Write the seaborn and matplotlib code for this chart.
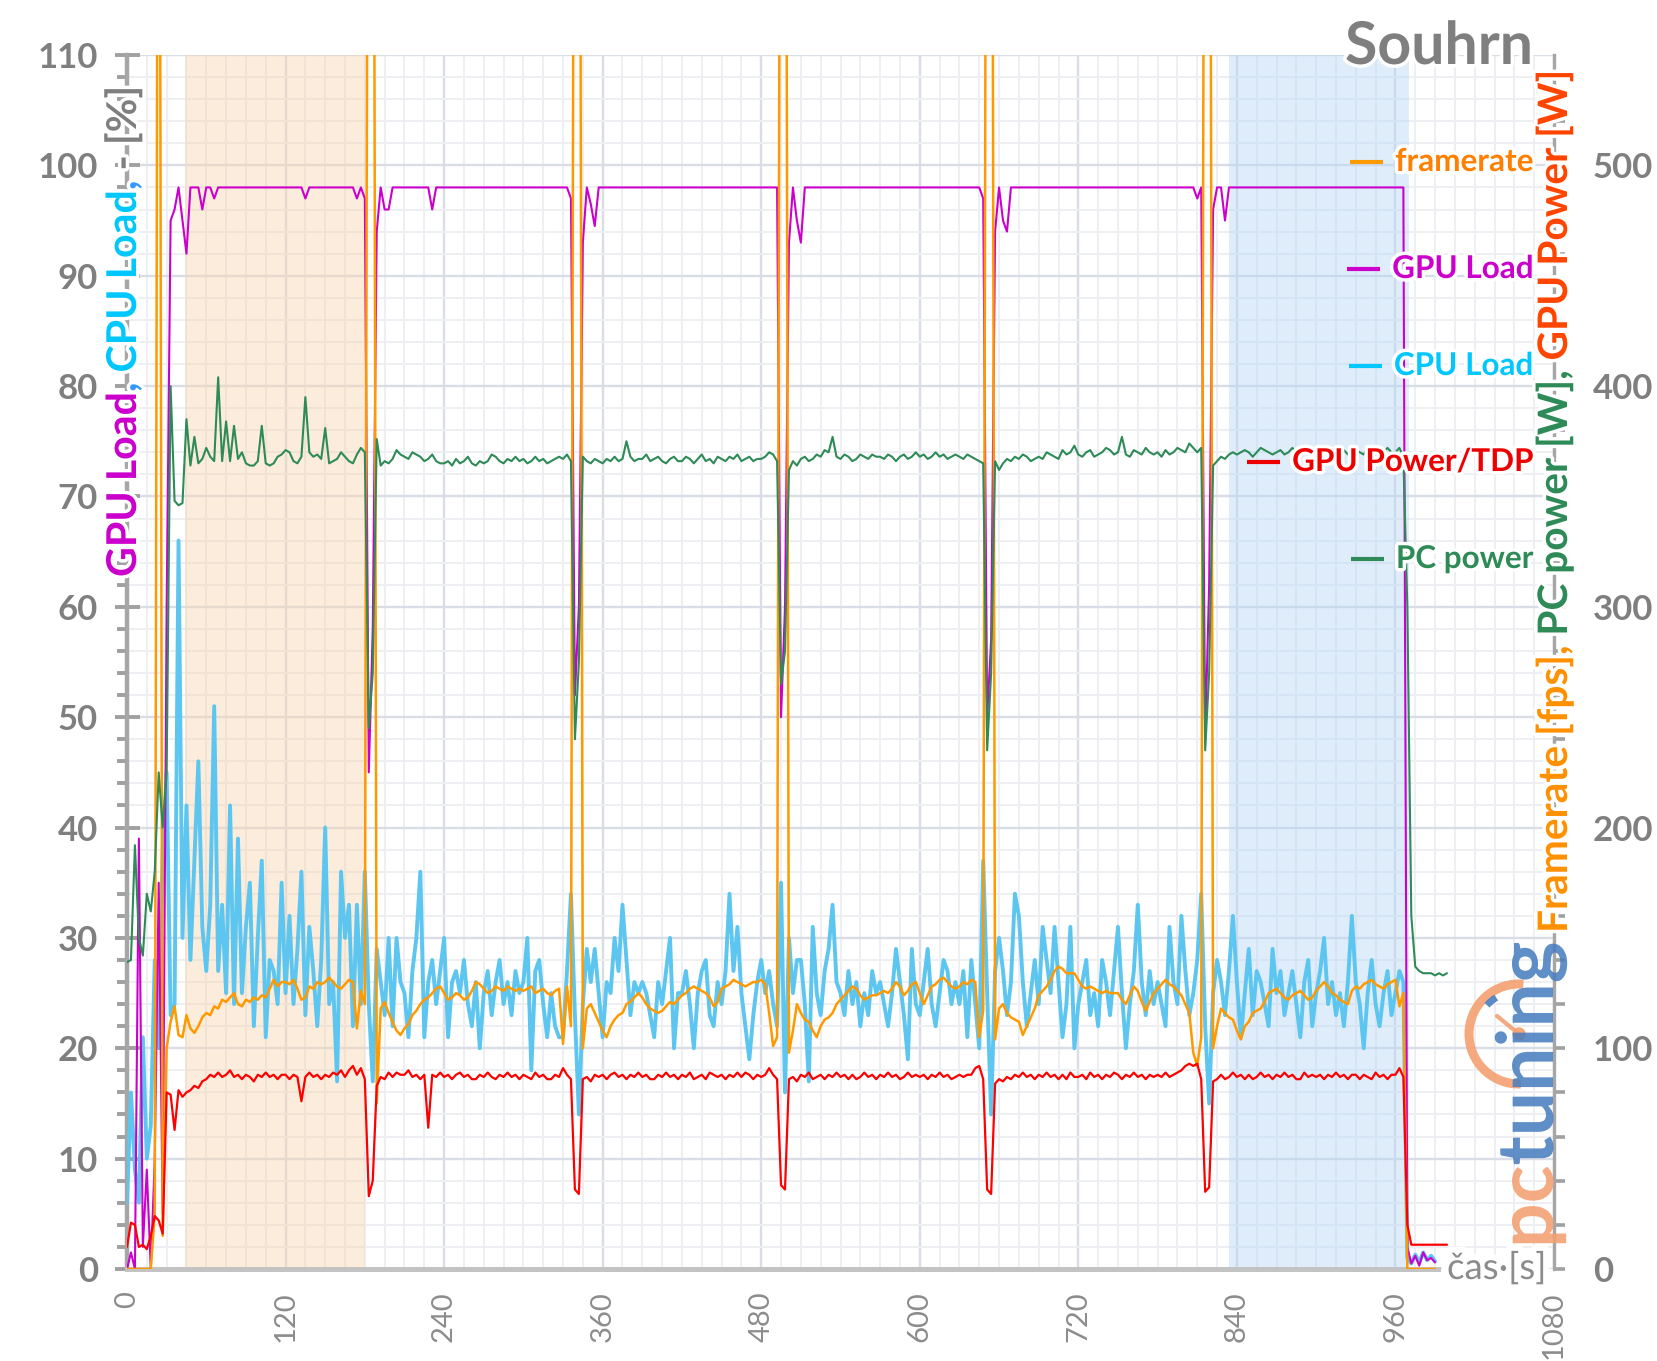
import numpy as np
import pandas as pd
import matplotlib
matplotlib.use("Agg")
import matplotlib.pyplot as plt
import seaborn as sns
from matplotlib.ticker import MultipleLocator
from matplotlib.patches import Arc, Circle
from matplotlib.lines import Line2D
import matplotlib.patheffects as pe

# ---------------- data (sampled every 3 s, one row = 30 s) ----------------
STEP_S = 3
gpu_load = [
    0, 1.5, 0, 39, 2, 9, 0, 10, 35, 5,
    60, 95, 96, 98, 95, 92, 98, 98, 98, 96,
    98, 98, 97, 98, 98, 98, 98, 98, 98, 98,
    98, 98, 98, 98, 98, 98, 98, 98, 98, 98,
    98, 98, 98, 98, 98, 97, 98, 98, 98, 98,
    98, 98, 98, 98, 98, 98, 98, 98, 97, 98,
    97, 45, 58, 94, 98, 96, 96, 98, 98, 98,
    98, 98, 98, 98, 98, 98, 98, 96, 98, 98,
    98, 98, 98, 98, 98, 98, 98, 98, 98, 98,
    98, 98, 98, 98, 98, 98, 98, 98, 98, 98,
    98, 98, 98, 98, 98, 98, 98, 98, 98, 98,
    98, 98, 97, 52, 60, 93, 98, 96.5, 94.5, 98,
    98, 98, 98, 98, 98, 98, 98, 98, 98, 98,
    98, 98, 98, 98, 98, 98, 98, 98, 98, 98,
    98, 98, 98, 98, 98, 98, 98, 98, 98, 98,
    98, 98, 98, 98, 98, 98, 98, 98, 98, 98,
    98, 98, 98, 98, 98, 50, 60, 93, 98, 95,
    93, 98, 98, 98, 98, 98, 98, 98, 98, 98,
    98, 98, 98, 98, 98, 98, 98, 98, 98, 98,
    98, 98, 98, 98, 98, 98, 98, 98, 98, 98,
    98, 98, 98, 98, 98, 98, 98, 98, 98, 98,
    98, 98, 98, 98, 98, 98, 97, 50, 57, 94,
    98, 95, 94, 98, 98, 98, 98, 98, 98, 98,
    98, 98, 98, 98, 98, 98, 98, 98, 98, 98,
    98, 98, 98, 98, 98, 98, 98, 98, 98, 98,
    98, 98, 98, 98, 98, 98, 98, 98, 98, 98,
    98, 98, 98, 98, 98, 98, 98, 98, 98, 98,
    97, 98, 48, 62, 96, 98, 98, 95, 98, 98,
    98, 98, 98, 98, 98, 98, 98, 98, 98, 98,
    98, 98, 98, 98, 98, 98, 98, 98, 98, 98,
    98, 98, 98, 98, 98, 98, 98, 98, 98, 98,
    98, 98, 98, 98, 98, 98, 98, 98, 98, 98,
    98, 98, 98, 2, 0.5, 1.2, 0.3, 1.5, 0.8, 1.0,
    0.6, np.nan, np.nan, np.nan,
]
cpu_load = [
    6, 16, 9, 6, 21, 10, 13, 28, 20, 38,
    45, 23, 24, 66, 30, 42, 28, 37, 46, 31,
    27, 33, 51, 27, 33, 25, 42, 24, 39, 25,
    31, 35, 22, 30, 37, 21, 28, 27, 24, 35,
    25, 32, 24, 29, 36, 23, 31, 27, 22, 28,
    40, 24, 26, 17, 36, 30, 33, 22, 33, 24,
    36, 24, 17, 29, 26, 23, 30, 22, 30, 26,
    25, 21, 27, 30, 36, 21, 26, 28, 24, 27,
    30, 21, 26, 27, 25, 28, 24, 22, 26, 20,
    25, 27, 23, 26, 28, 24, 26, 23, 27, 25,
    26, 30, 18, 27, 28, 24, 21, 25, 22, 21,
    21, 27, 34, 23, 14, 24, 29, 26, 29, 25,
    21, 26, 25, 30, 27, 33, 28, 23, 26, 25,
    26, 25, 23, 21, 26, 24, 27, 30, 20, 25,
    25, 27, 24, 20, 25, 27, 28, 23, 22, 26,
    24, 27, 34, 27, 31, 25, 22, 19, 23, 26,
    28, 25, 27, 24, 22, 35, 16, 30, 25, 28,
    28, 24, 17, 31, 25, 23, 27, 29, 33, 26,
    25, 23, 27, 24, 26, 22, 25, 23, 27, 25,
    26, 24, 22, 25, 29, 26, 23, 19, 29, 24,
    23, 26, 29, 24, 22, 25, 28, 27, 24, 26,
    24, 27, 21, 28, 24, 20, 37, 25, 14, 27,
    30, 27, 23, 26, 34, 32, 26, 22, 25, 28,
    24, 31, 28, 25, 31, 26, 21, 24, 31, 20,
    24, 26, 28, 23, 25, 22, 28, 26, 23, 27,
    31, 25, 20, 24, 27, 33, 26, 23, 27, 24,
    26, 24, 22, 31, 26, 24, 32, 27, 23, 25,
    28, 34, 22, 15, 25, 28, 26, 23, 27, 32,
    26, 21, 25, 29, 23, 27, 26, 24, 22, 29,
    25, 27, 23, 25, 27, 24, 21, 26, 28, 22,
    25, 27, 30, 24, 26, 23, 25, 22, 26, 32,
    26, 24, 20, 25, 28, 24, 22, 25, 27, 23,
    25, 27, 26, 1, 0.5, 1.3, 0.6, 1.5, 0.8, 1.2,
    0.7, np.nan, np.nan, np.nan,
]
framerate = [
    0, 0, 0, 0, 0, 0, 0, 25, 900, 15,
    100, 112, 119, 106, 105, 115, 109, 107, 110, 114,
    116, 115, 119, 118, 122, 121, 123, 125, 120, 119,
    122, 121, 123, 122, 124, 123, 127, 131, 128, 130,
    130, 129, 131, 127, 122, 123, 128, 127, 130, 129,
    130, 132, 130, 128, 127, 129, 131, 130, 109, 126,
    120, 900, 900, 75, 118, 121, 116, 112, 108, 106,
    109, 111, 115, 117, 120, 122, 123, 125, 127, 128,
    125, 122, 123, 125, 124, 122, 123, 126, 130, 129,
    127, 125, 126, 128, 127, 126, 128, 127, 126, 127,
    126, 127, 128, 125, 126, 127, 125, 124, 126, 127,
    102, 128, 110, 900, 900, 100, 118, 120, 116, 112,
    108, 105, 110, 113, 115, 116, 120, 121, 123, 125,
    123, 120, 118, 117, 116, 117, 119, 121, 120, 122,
    124, 125, 127, 128, 127, 126, 125, 123, 119, 121,
    127, 128, 129, 131, 130, 129, 128, 129, 130, 130,
    131, 129, 116, 101, 105, 900, 900, 98, 108, 120,
    116, 113, 112, 108, 105, 110, 113, 114, 116, 120,
    122, 124, 126, 128, 127, 124, 122, 123, 124, 124,
    125, 126, 125, 127, 130, 128, 124, 126, 129, 130,
    125, 120, 124, 128, 129, 131, 132, 130, 128, 127,
    128, 130, 129, 131, 130, 105, 117, 900, 900, 104,
    118, 120, 116, 114, 113, 112, 106, 110, 114, 118,
    124, 126, 128, 131, 135, 137, 136, 134, 134, 134,
    131, 128, 127, 128, 127, 126, 125, 126, 125, 125,
    125, 122, 120, 124, 128, 126, 121, 117, 121, 125,
    127, 129, 131, 129, 128, 126, 124, 120, 116, 98,
    92, 105, 900, 900, 100, 110, 118, 116, 114, 113,
    108, 104, 110, 112, 116, 117, 118, 121, 125, 126,
    127, 125, 123, 122, 124, 125, 126, 124, 122, 123,
    126, 128, 130, 128, 125, 124, 122, 121, 120, 126,
    128, 127, 129, 130, 131, 129, 128, 127, 129, 130,
    131, 119, 125, 0, 0, 0, 0, 0, 0, 0,
    0, np.nan, np.nan, np.nan,
]
gpu_power = [
    10, 21, 20, 10, 11, 9, 15, 24, 22, 16,
    80, 79, 63, 81, 78, 80, 81, 83, 82, 85,
    86, 88, 87, 89, 87, 88, 90, 87, 88, 86,
    88, 87, 85, 88, 87, 89, 87, 88, 86, 88,
    88, 86, 88, 87, 76, 87, 89, 87, 88, 86,
    88, 87, 89, 88, 90, 87, 90, 92, 88, 91,
    86, 33, 40, 83, 87, 86, 89, 87, 89, 88,
    88, 90, 87, 88, 86, 88, 64, 88, 87, 89,
    87, 88, 86, 88, 89, 87, 88, 86, 86, 88,
    87, 89, 87, 86, 88, 87, 89, 87, 88, 86,
    88, 87, 86, 89, 87, 88, 86, 86, 88, 87,
    91, 88, 86, 36, 34, 86, 87, 85, 88, 87,
    88, 86, 88, 89, 87, 88, 86, 88, 87, 89,
    87, 88, 86, 86, 88, 87, 89, 87, 88, 86,
    88, 87, 89, 86, 87, 88, 86, 89, 88, 87,
    88, 86, 88, 87, 89, 87, 89, 88, 86, 88,
    87, 88, 91, 88, 86, 38, 36, 86, 87, 85,
    88, 87, 89, 86, 87, 88, 86, 88, 87, 89,
    87, 88, 86, 88, 86, 87, 89, 87, 88, 86,
    88, 87, 89, 87, 88, 86, 87, 89, 87, 88,
    87, 88, 86, 88, 87, 89, 87, 88, 86, 87,
    88, 87, 88, 88, 91, 92, 86, 36, 34, 84,
    86, 85, 87, 86, 88, 87, 89, 87, 88, 86,
    88, 87, 89, 87, 88, 86, 88, 86, 89, 87,
    87, 88, 86, 89, 87, 88, 86, 88, 87, 89,
    88, 86, 88, 87, 89, 87, 88, 86, 88, 87,
    88, 87, 89, 87, 88, 89, 90, 92, 93, 92,
    93, 86, 35, 37, 85, 86, 88, 86, 87, 89,
    87, 88, 86, 88, 86, 87, 89, 87, 88, 86,
    88, 87, 89, 87, 88, 86, 86, 89, 87, 88,
    87, 88, 86, 88, 87, 89, 87, 88, 86, 88,
    88, 86, 88, 87, 86, 89, 87, 88, 86, 88,
    88, 91, 87, 20, 11, 11, 11, 11, 11, 11,
    11, 11, 11, 11,
]
pc_power = [
    139, 140, 192, 150, 142, 170, 162, 180, 225, 200,
    225, 400, 348, 346, 347, 385, 364, 377, 365, 367,
    372, 368, 366, 404, 366, 384, 366, 382, 367, 370,
    365, 364, 364, 366, 382, 365, 364, 365, 368, 369,
    371, 370, 366, 365, 368, 395, 370, 368, 369, 367,
    381, 365, 366, 367, 370, 368, 366, 365, 369, 372,
    370, 245, 270, 376, 364, 366, 365, 367, 371, 369,
    368, 367, 370, 369, 368, 366, 367, 369, 366, 365,
    365, 366, 364, 367, 365, 366, 368, 365, 364, 366,
    365, 366, 369, 368, 366, 365, 367, 366, 368, 366,
    367, 365, 366, 368, 366, 367, 365, 366, 367, 368,
    367, 369, 366, 240, 275, 368, 366, 365, 367, 366,
    365, 367, 366, 368, 366, 367, 375, 368, 366, 367,
    367, 369, 366, 367, 368, 366, 365, 367, 368, 366,
    366, 368, 367, 365, 367, 369, 366, 367, 365, 368,
    367, 366, 368, 367, 369, 366, 367, 368, 366, 367,
    367, 368, 370, 369, 366, 265, 280, 362, 366, 364,
    367, 368, 366, 367, 369, 368, 371, 370, 377, 368,
    367, 369, 368, 366, 367, 369, 368, 367, 369, 368,
    368, 367, 369, 368, 366, 368, 369, 367, 368, 370,
    368, 369, 367, 368, 370, 368, 369, 367, 368, 369,
    368, 367, 369, 368, 367, 366, 365, 235, 270, 366,
    362, 365, 367, 366, 368, 367, 369, 368, 366, 367,
    368, 367, 370, 369, 368, 367, 371, 369, 370, 373,
    369, 368, 370, 371, 368, 369, 370, 372, 371, 369,
    370, 377, 369, 368, 371, 370, 369, 372, 370, 369,
    370, 368, 371, 369, 370, 372, 371, 370, 374, 372,
    370, 372, 235, 270, 364, 366, 368, 367, 369, 370,
    369, 370, 371, 370, 368, 370, 372, 371, 370, 369,
    370, 371, 369, 370, 372, 370, 369, 371, 370, 368,
    370, 369, 371, 370, 369, 372, 370, 371, 369, 370,
    371, 370, 369, 372, 370, 369, 371, 370, 372, 370,
    370, 372, 368, 300, 160, 137, 135, 134, 134, 134,
    133, 134, 133, 134,
]

x_ticks = [0, 120, 240, 360, 480, 600, 720, 840, 960, 1080]
left_ticks = [0, 10, 20, 30, 40, 50, 60, 70, 80, 90, 100, 110]
right_ticks = [0, 100, 200, 300, 400, 500]
shade_orange = (44, 180)
shade_blue = (834, 970)
legend_names = ["framerate", "GPU Load", "CPU Load", "GPU Power/TDP", "PC power"]
title_text = "Souhrn"
xlabel_text = "čas·[s]"

# ---------------- colours ----------------
C_CPU = "#5CC6F0"
C_MAG = "#CC00CC"
C_FPS = "#FF9900"
C_RED = "#FF0000"
C_GRN = "#2E8B57"
C_GRAY = "#7F7F7F"

sns.set_theme(style="white")
plt.rcParams['font.family'] = ['Lato', 'DejaVu Sans']

W, H = 1658, 1361
fig = plt.figure(figsize=(W / 100, H / 100), dpi=100)
PL, PR, PB, PT = 127, 1554, 1269, 55
ax = fig.add_axes([PL / W, 1 - PB / H, (PR - PL) / W, (PB - PT) / H])
ax2 = ax.twinx()


def frame(values):
    v = np.array(values, dtype=float)
    return pd.DataFrame({"t": np.arange(len(v)) * STEP_S, "v": v})


sns.lineplot(data=frame(cpu_load), x="t", y="v", ax=ax, color=C_CPU, lw=2.8,
             estimator=None, legend=False, zorder=3)
sns.lineplot(data=frame(gpu_load), x="t", y="v", ax=ax, color=C_MAG, lw=1.5,
             estimator=None, legend=False, zorder=4)
sns.lineplot(data=frame(framerate), x="t", y="v", ax=ax2, color=C_FPS, lw=1.8,
             estimator=None, legend=False, zorder=3)
sns.lineplot(data=frame(pc_power), x="t", y="v", ax=ax2, color=C_GRN, lw=1.5,
             estimator=None, legend=False, zorder=4)
sns.lineplot(data=frame(gpu_power), x="t", y="v", ax=ax2, color=C_RED, lw=1.6,
             estimator=None, legend=False, zorder=5)

ax.set_xlim(0, 1080)
ax.set_ylim(0, 110)
ax2.set_ylim(0, 550)
for a in (ax, ax2):
    a.set_xlabel("")
    a.set_ylabel("")

# grid
ax.set_xticks(x_ticks, labels=[str(v) for v in x_ticks], rotation=90,
              fontsize=21, color="#8C8C8C")
ax.xaxis.set_minor_locator(MultipleLocator(15))
ax.set_yticks(left_ticks, labels=[str(v) for v in left_ticks],
              fontsize=25, fontweight="bold", color=C_GRAY)
ax.yaxis.set_minor_locator(MultipleLocator(2))
ax.grid(True, which="major", color="#D9DDE5", lw=1.7)
ax.grid(True, which="minor", color="#EDEFF3", lw=1.4)
ax.set_axisbelow(True)

ax.axvspan(*shade_orange, facecolor="#F8D5B0", alpha=0.45, lw=0, zorder=0.8)
ax.axvspan(*shade_blue, facecolor="#B8D8F8", alpha=0.45, lw=0, zorder=0.8)

# spines
for s in ("top", "right"):
    ax.spines[s].set_visible(False)
for s in ("top", "left", "bottom"):
    ax2.spines[s].set_visible(False)
ax.spines["left"].set_color("#A6A6A6")
ax.spines["left"].set_linewidth(3.2)
ax.spines["bottom"].set_color("#C3C3C3")
ax.spines["bottom"].set_linewidth(3.6)
ax.spines["bottom"].set_bounds(0, 992)
ax2.spines["right"].set_color("#A6A6A6")
ax2.spines["right"].set_linewidth(2.4)

ax.tick_params(axis="y", which="major", direction="inout", length=18, width=2.8,
               color="#A0A0A0", pad=12)
ax.tick_params(axis="y", which="minor", direction="out", length=7, width=2.8,
               color="#A0A0A0")
ax.tick_params(axis="x", which="major", direction="out", length=7, width=3.5,
               color="#C3C3C3", pad=9)
ax.tick_params(axis="x", which="minor", length=0)

ax2.set_yticks(right_ticks, labels=[str(v) for v in right_ticks],
               fontsize=25, fontweight="bold", color=C_GRAY)
ax2.yaxis.set_minor_locator(MultipleLocator(20))
ax2.tick_params(axis="y", which="both", direction="out", length=8, width=2.6,
                color="#A0A0A0", pad=20)

# ---------------- overlay in pixel coordinates ----------------
ov = fig.add_axes([0, 0, 1, 1], zorder=10)
ov.set_xlim(0, W)
ov.set_ylim(0, H)
ov.axis("off")


def Y(y):
    return H - y


fig.canvas.draw()
renderer = fig.canvas.get_renderer()
glow = [pe.withStroke(linewidth=5, foreground="white")]


def space_w(size, weight):
    a = ov.text(0, 0, "a a", fontsize=size, fontweight=weight)
    b = ov.text(0, 0, "aa", fontsize=size, fontweight=weight)
    w = a.get_window_extent(renderer).width - b.get_window_extent(renderer).width
    a.remove()
    b.remove()
    return w


def vlabel(x, y_bottom, parts, target, size0=30, weight="bold", alpha=1.0, effects=glow):
    def build(size):
        arts = []
        y = Y(y_bottom)
        sp = space_w(size, weight)
        start = y
        for i, (s, c, spc) in enumerate(parts):
            if i > 0 and spc:
                y += sp
            t = ov.text(x, y, s, rotation=90, rotation_mode="anchor", ha="left",
                        va="baseline", fontsize=size, fontweight=weight, color=c,
                        path_effects=effects, alpha=alpha)
            y += t.get_window_extent(renderer).height
            arts.append(t)
        return arts, y - start
    arts, L = build(size0)
    for a in arts:
        a.remove()
    arts, L = build(size0 * target / L)
    return arts


vlabel(136, 577, [("GPU Load", C_MAG, False), (",", "#3399FF", False),
                  ("CPU Load", "#00C8FF", True), (",", "#3399FF", False),
                  ("- [%]", C_GRAY, True)], 490)
vlabel(1567, 933, [("Framerate [fps],", "#FF9000", False),
                   ("PC power [W],", C_GRN, True),
                   ("GPU Power [W]", "#FF4500", True)], 862)

# title
t = ov.text(1533, Y(47), title_text, ha="right", va="center", fontsize=40,
            fontweight="bold", color=C_GRAY, path_effects=glow)
w = t.get_window_extent(renderer).width
t.set_fontsize(40 * 188 / w)

# legend
leg_colors = ["#FF8000", C_MAG, "#00C8FF", "#EE0000", C_GRN]
line_colors = [C_FPS, C_MAG, "#00C8FF", "#EE0000", C_GRN]
leg_y = [162, 269, 366, 462, 559]
probe = ov.text(0, 0, "GPU Power/TDP", fontsize=22, fontweight="bold")
leg_size = 22 * 241 / probe.get_window_extent(renderer).width
probe.remove()
for name, tc, lc, yy in zip(legend_names, leg_colors, line_colors, leg_y):
    tt = ov.text(1533, Y(yy), name, ha="right", va="center", fontsize=leg_size,
                 fontweight="bold", color=tc, path_effects=glow)
    bb = tt.get_window_extent(renderer)
    x1 = bb.x0 - 12
    ov.add_line(Line2D([x1 - 33, x1], [Y(yy), Y(yy)], color=lc, lw=3,
                       solid_capstyle="butt"))

# x axis label
xl = ov.text(1447, Y(1268), xlabel_text, ha="left", va="center", fontsize=22,
             color="#8C8C8C", path_effects=[pe.withStroke(linewidth=9, foreground="white")])
w = xl.get_window_extent(renderer).width
xl.set_fontsize(22 * 99 / w)

# pctuning watermark
vlabel(1553, 1248, [("pc", "#F4A070", False), ("tuning", "#4A7EBF", False)], 307,
       size0=50, weight="bold", alpha=0.88, effects=[pe.Normal()])
cx, cy, r = 1519, Y(1034), 50
ov.add_patch(Arc((cx, cy), 2 * r, 2 * r, theta1=85, theta2=272, color="#F4A070",
                 lw=6.5, alpha=0.9))
ov.add_patch(Arc((cx, cy), 2 * r - 14, 2 * r - 14, theta1=122, theta2=138,
                 color="#4A7EBF", lw=5, alpha=0.9))
ov.add_line(Line2D([cx, cx - 22], [cy, cy + 18], color="#F4A070", lw=3, alpha=0.9))
ov.add_patch(Circle((cx, cy), 6, color="#F4A070", alpha=0.9))

fig.savefig("out.png", dpi=100)
